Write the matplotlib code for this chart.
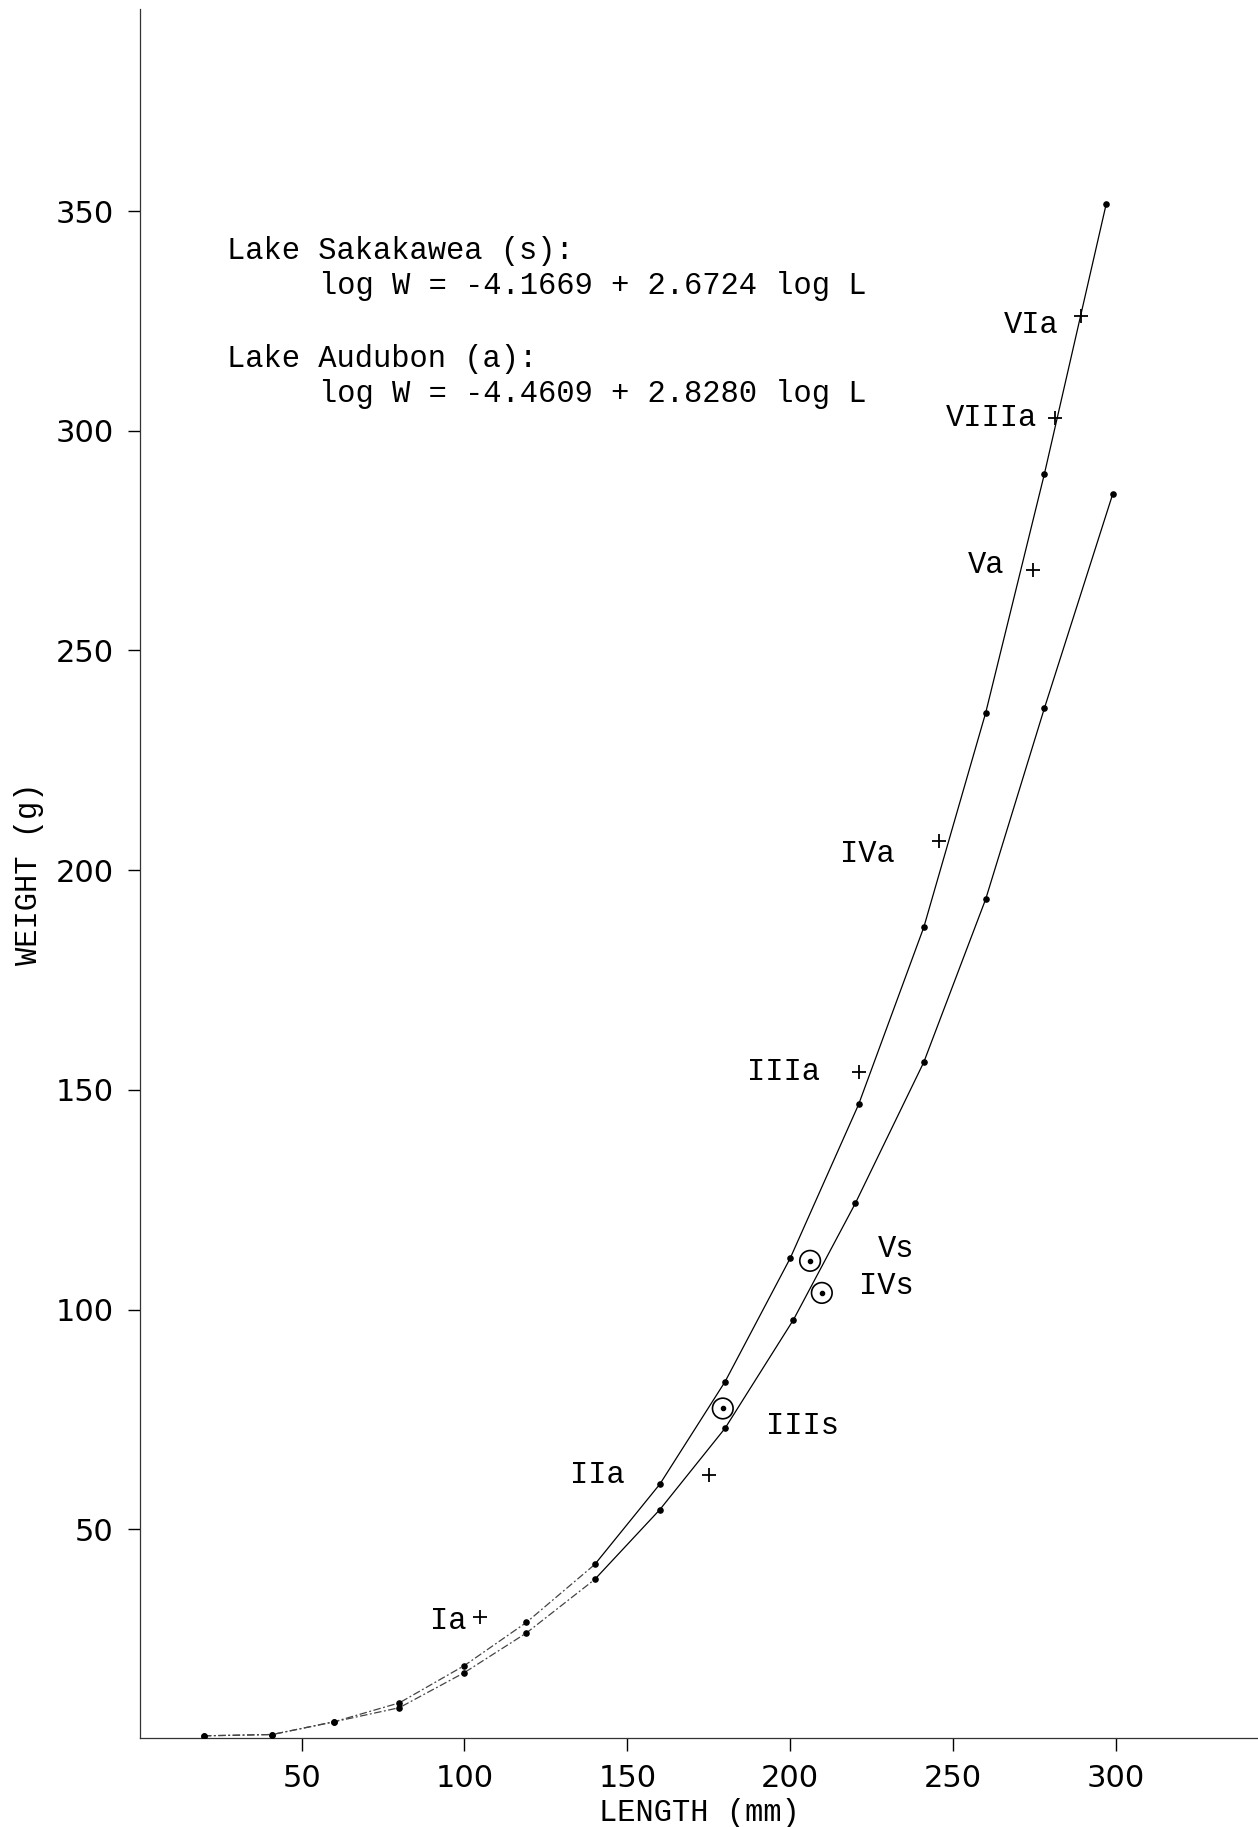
import matplotlib
matplotlib.use("Agg")
import matplotlib.pyplot as plt

# Lake Audubon (a) - fitted curve points
aud_len = [20, 41, 60, 80, 100, 119, 140, 160, 180, 200, 221, 241, 260, 278, 297]
aud_wt = [3.0, 3.3, 6.2, 10.5, 19.0, 28.8, 42.0, 60.3, 83.6, 111.7, 146.7, 187.0, 235.8, 290.1, 351.6]

# Lake Sakakawea (s) - fitted curve points
sak_len = [20, 41, 60, 80, 100, 119, 140, 160, 180, 201, 220, 241, 260, 278, 299]
sak_wt = [3.0, 3.3, 6.2, 9.4, 17.4, 26.4, 38.6, 54.5, 73.0, 97.7, 124.2, 156.3, 193.4, 236.8, 285.6]

# observed means, Lake Audubon
obs_a_labels = ["Ia", "IIa", "IIIa", "IVa", "Va", "VIIIa", "VIa"]
obs_a_len = [104.7, 175.2, 221.0, 245.6, 274.6, 281.4, 289.3]
obs_a_wt = [30.1, 62.4, 154.1, 206.6, 268.4, 302.8, 326.1]

# observed means, Lake Sakakawea
obs_s_labels = ["IIIs", "Vs", "IVs"]
obs_s_len = [179.3, 206.1, 209.7]
obs_s_wt = [77.5, 111.1, 103.8]

x_ticks = [50, 100, 150, 200, 250, 300]
y_ticks = [50, 100, 150, 200, 250, 300, 350]

typefont = "Liberation Mono"

fig = plt.figure(figsize=(12.58, 18.27), dpi=100)
ax = fig.add_axes([0.1113, 0.0487, 0.8887, 0.9464])

# faint dash-dot at the small lengths, solid above
n_low = 7
for xs, ys in [(aud_len, aud_wt), (sak_len, sak_wt)]:
    ax.plot(xs[:n_low], ys[:n_low], color="#444444", lw=0.9, ls=(0, (6, 2, 1.5, 2)))
    ax.plot(xs[n_low - 1:], ys[n_low - 1:], color="black", lw=0.9)
ax.scatter(aud_len, aud_wt, s=14, color="black", zorder=3)
ax.scatter(sak_len, sak_wt, s=14, color="black", zorder=3)

ax.scatter(obs_a_len, obs_a_wt, marker="+", s=110, color="black", linewidths=1.3)
ax.scatter(obs_s_len, obs_s_wt, marker="o", s=220, facecolors="none",
           edgecolors="black", linewidths=1.2)
ax.scatter(obs_s_len, obs_s_wt, marker="o", s=9, color="black")

# label offsets (text anchor right of label, relative to marker)
a_offsets = [(-4, -1), (-26, 0), (-12, 0), (-13.5, -3), (-9, 1), (-5.5, 0), (-7, -2)]
for lab, x, y, (dx, dy) in zip(obs_a_labels, obs_a_len, obs_a_wt, a_offsets):
    ax.text(x + dx, y + dy, lab, ha="right", va="center", fontsize=22, family=typefont)

s_pos = [(192.5, 73.4), (227.0, 113.8), (221.0, 105.4)]
for lab, (tx, ty) in zip(obs_s_labels, s_pos):
    ax.text(tx, ty, lab, ha="left", va="center", fontsize=22, family=typefont)

ax.text(27.1, 341.0, "Lake Sakakawea (s):", fontsize=22, family=typefont, va="center")
ax.text(55.4, 333.0, "log W = -4.1669 + 2.6724 log L", fontsize=22, family=typefont, va="center")
ax.text(27.1, 316.3, "Lake Audubon (a):", fontsize=22, family=typefont, va="center")
ax.text(55.4, 308.4, "log W = -4.4609 + 2.8280 log L", fontsize=22, family=typefont, va="center")

ax.set_xlim(0.4, 343.6)
ax.set_ylim(2.5, 396)
ax.set_xticks(x_ticks)
ax.set_yticks(y_ticks)
ax.tick_params(direction="out", length=9, width=1, labelsize=22, pad=10)

ax.spines["top"].set_visible(False)
ax.spines["right"].set_visible(False)
for s in ["left", "bottom"]:
    ax.spines[s].set_linewidth(0.9)
    ax.spines[s].set_color("#333333")

ax.set_xlabel("LENGTH (mm)", fontsize=22, family=typefont, labelpad=3)
ax.set_ylabel("WEIGHT (g)", fontsize=22, family=typefont, labelpad=8)

fig.savefig("out.png", dpi=100)
